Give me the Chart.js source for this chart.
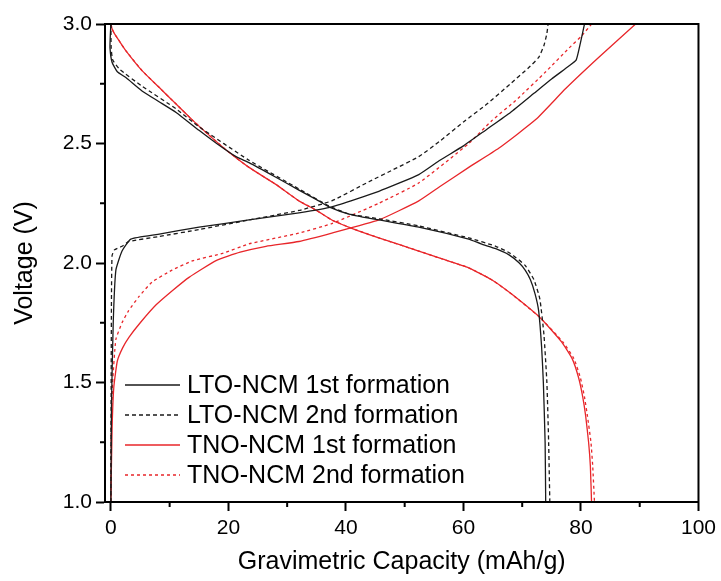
<!DOCTYPE html>
<html>
<head>
<meta charset="utf-8">
<script src="https://cdn.jsdelivr.net/npm/chart.js@4.4.1/dist/chart.umd.min.js"></script>
<style>
  html, body { margin: 0; padding: 0; background: #fff; }
  #wrap { width: 721px; height: 581px; position: relative; }
</style>
</head>
<body>
<div id="wrap"><canvas id="chart"></canvas></div>
<script>
// ---- axes ----
const xTicks = [0, 20, 40, 60, 80, 100];
const xMinor = [10, 30, 50, 70, 90];
const yTicks = [1.0, 1.5, 2.0, 2.5, 3.0];
const yMinor = [1.25, 1.75, 2.25, 2.75];

const seriesLabels = ["LTO-NCM 1st formation", "LTO-NCM 2nd formation", "TNO-NCM 1st formation", "TNO-NCM 2nd formation"];

// ---- LTO-NCM 1st (charge / discharge) ----
const lto1ChCap = [0, 0.1, 0.4, 0.85, 1.9, 3.4, 8, 15, 23.5, 32, 37.6, 45.6, 52.4, 56, 60, 64, 68, 72, 75, 78, 79.2, 79.9, 80.6];
const lto1ChV   = [1.0, 1.4, 1.75, 1.97, 2.05, 2.10, 2.12, 2.15, 2.18, 2.21, 2.235, 2.30, 2.37, 2.43, 2.49, 2.56, 2.63, 2.71, 2.77, 2.825, 2.85, 2.92, 3.0];
const lto1DisCap = [0, -0.1, -0.15, 0.2, 1.1, 2.6, 5.3, 8.2, 11.1, 15, 18, 21.3, 23.5, 28, 32, 35, 37.1, 40.5, 45.6, 52.4, 60.9, 63, 65.5, 67.7, 69.5, 70.5, 71.4, 72.2, 72.8, 73.3, 73.6, 73.9, 74.0];
const lto1DisV   = [3.0, 2.95, 2.90, 2.84, 2.80, 2.775, 2.72, 2.675, 2.63, 2.555, 2.50, 2.445, 2.42, 2.36, 2.305, 2.265, 2.235, 2.205, 2.18, 2.15, 2.10, 2.08, 2.06, 2.035, 2.00, 1.97, 1.93, 1.87, 1.80, 1.65, 1.50, 1.25, 1.0];

// ---- LTO-NCM 2nd ----
const lto2ChCap = [0, 0.05, 0.1, 0.2, 0.6, 1.9, 3.1, 8, 15, 23.5, 32, 37.6, 43.9, 48, 52.4, 56, 60, 64, 68, 71, 72.8, 73.7, 74.2, 74.4];
const lto2ChV   = [1.0, 1.5, 1.85, 2.03, 2.055, 2.07, 2.09, 2.11, 2.14, 2.18, 2.22, 2.26, 2.34, 2.39, 2.445, 2.51, 2.59, 2.665, 2.75, 2.815, 2.86, 2.91, 2.96, 3.0];
const lto2DisCap = [0, 0.05, 0.3, 1.5, 5.3, 11.1, 15, 23.5, 32, 37, 40.5, 45.6, 52.4, 60.9, 65.5, 68, 70.5, 72, 73, 73.7, 74.2, 74.5, 74.7];
const lto2DisV   = [3.0, 2.9, 2.85, 2.81, 2.74, 2.645, 2.57, 2.43, 2.31, 2.24, 2.205, 2.185, 2.155, 2.105, 2.07, 2.04, 1.99, 1.93, 1.85, 1.70, 1.50, 1.25, 1.0];

// ---- TNO-NCM 1st ----
const tno1ChCap = [0, 0.2, 0.5, 1.1, 2, 3.1, 5, 7.7, 10.5, 13.3, 17.9, 22, 26.4, 32, 37.6, 45.6, 52.4, 56, 60.9, 66, 72.3, 77.4, 83, 89.3];
const tno1ChV   = [1.0, 1.3, 1.48, 1.59, 1.645, 1.69, 1.75, 1.825, 1.885, 1.94, 2.01, 2.045, 2.07, 2.09, 2.125, 2.18, 2.26, 2.32, 2.40, 2.48, 2.60, 2.73, 2.86, 3.0];
const tno1DisCap = [0, 0.2, 0.6, 1.4, 2.5, 5.3, 8.2, 11.1, 13.8, 16.7, 20, 23.5, 28, 32, 35, 37.6, 41, 45.6, 52.4, 56, 60.9, 64.8, 68.2, 73.1, 76.7, 78.5, 79.6, 80.3, 80.8, 81.3, 81.6, 81.8];
const tno1DisV   = [3.0, 2.98, 2.96, 2.93, 2.89, 2.805, 2.735, 2.665, 2.60, 2.535, 2.465, 2.40, 2.33, 2.26, 2.22, 2.18, 2.145, 2.105, 2.05, 2.02, 1.98, 1.93, 1.87, 1.77, 1.67, 1.60, 1.52, 1.44, 1.36, 1.25, 1.15, 1.0];

// ---- TNO-NCM 2nd ----
const tno2ChCap = [0, 0.05, 0.3, 0.85, 1.9, 3, 4.8, 7, 10.4, 14, 19, 23.5, 32, 37.6, 45.6, 52.4, 60.9, 64.8, 68.9, 74, 78, 80.1, 81.8];
const tno2ChV   = [1.0, 1.3, 1.5, 1.68, 1.75, 1.80, 1.86, 1.92, 1.97, 2.01, 2.04, 2.08, 2.125, 2.165, 2.25, 2.335, 2.50, 2.595, 2.68, 2.80, 2.90, 2.95, 3.0];
const tno2DisCap = [0, 0.2, 0.6, 1.4, 2.5, 5.3, 8.2, 11.1, 13.8, 16.7, 20, 23.5, 28, 32, 35, 37.6, 41, 45.6, 52.4, 56, 60.9, 64.8, 68.2, 73.1, 76.9, 78.8, 79.9, 80.6, 81.1, 81.7, 82.0, 82.3];
const tno2DisV   = [3.0, 2.98, 2.96, 2.93, 2.89, 2.805, 2.735, 2.665, 2.60, 2.535, 2.465, 2.40, 2.33, 2.26, 2.22, 2.18, 2.145, 2.105, 2.05, 2.02, 1.98, 1.93, 1.87, 1.77, 1.67, 1.60, 1.52, 1.44, 1.36, 1.25, 1.15, 1.0];

const black = '#1a1a1a';
const red = '#e8262a';
const FONT = "'Liberation Sans', Arial, sans-serif";

const styles = [
  { color: black, dash: [] },
  { color: black, dash: [4, 3] },
  { color: red, dash: [] },
  { color: red, dash: [3, 3] }
];

function pts(xs, ys) {
  return xs.map((x, i) => ({ x: x, y: ys[i] }));
}

const curves = [
  [lto1ChCap, lto1ChV, lto1DisCap, lto1DisV],
  [lto2ChCap, lto2ChV, lto2DisCap, lto2DisV],
  [tno1ChCap, tno1ChV, tno1DisCap, tno1DisV],
  [tno2ChCap, tno2ChV, tno2DisCap, tno2DisV]
];

const datasets = [];
curves.forEach((c, i) => {
  [pts(c[0], c[1]), pts(c[2], c[3])].forEach((d, k) => {
    datasets.push({
      label: seriesLabels[i] + (k ? ' discharge' : ''),
      data: d,
      showLine: true,
      borderColor: styles[i].color,
      borderDash: styles[i].dash,
      borderWidth: 1.3,
      pointRadius: 0,
      tension: 0.15,
      fill: false
    });
  });
});

// box, minor ticks and legend
const framePlugin = {
  id: 'frame',
  afterDraw(chart) {
    const ctx = chart.ctx;
    const a = chart.chartArea;
    const xs = chart.scales.x, ys = chart.scales.y;
    ctx.save();
    ctx.strokeStyle = '#000';
    ctx.lineWidth = 2;
    ctx.strokeRect(a.left, a.top, a.right - a.left, a.bottom - a.top);
    ctx.beginPath();
    xMinor.forEach(v => {
      const p = xs.getPixelForValue(v);
      ctx.moveTo(p, a.bottom);
      ctx.lineTo(p, a.bottom + 5);
    });
    yMinor.forEach(v => {
      const p = ys.getPixelForValue(v);
      ctx.moveTo(a.left, p);
      ctx.lineTo(a.left - 5, p);
    });
    ctx.stroke();

    // legend
    ctx.font = '25px ' + FONT;
    ctx.textBaseline = 'middle';
    ctx.fillStyle = '#000';
    seriesLabels.forEach((lab, i) => {
      const y = 385 + i * 30;
      ctx.beginPath();
      ctx.lineWidth = 1.3;
      ctx.strokeStyle = styles[i].color;
      ctx.setLineDash(styles[i].dash);
      ctx.moveTo(125, y);
      ctx.lineTo(180, y);
      ctx.stroke();
      ctx.setLineDash([]);
      ctx.fillText(lab, 187, y + 1);
    });
    ctx.restore();
  }
};

new Chart(document.getElementById('chart'), {
  type: 'scatter',
  data: { datasets: datasets },
  options: {
    responsive: true,
    maintainAspectRatio: false,
    animation: false,
    layout: { padding: { top: 24, right: 21, left: 0, bottom: 0 } },
    plugins: { legend: { display: false }, tooltip: { enabled: false } },
    scales: {
      x: {
        type: 'linear',
        min: -1,
        max: 100,
        afterFit(scale) { scale.height = 79; },
        afterBuildTicks(scale) { scale.ticks = xTicks.map(v => ({ value: v })); },
        grid: { drawOnChartArea: false, drawTicks: true, tickLength: 9, tickWidth: 2, tickColor: '#000' },
        border: { display: true, color: '#000', width: 2 },
        ticks: { color: '#000', padding: 5, font: { family: FONT, size: 21 }, callback: v => String(v) },
        title: { display: true, text: 'Gravimetric Capacity (mAh/g)', color: '#000', font: { family: FONT, size: 25 }, padding: { top: 0, bottom: 4 } }
      },
      y: {
        type: 'linear',
        min: 1,
        max: 3,
        afterFit(scale) { scale.width = 105; },
        afterBuildTicks(scale) { scale.ticks = yTicks.map(v => ({ value: v })); },
        grid: { drawOnChartArea: false, drawTicks: true, tickLength: 9, tickWidth: 2, tickColor: '#000' },
        border: { display: true, color: '#000', width: 2 },
        ticks: { color: '#000', padding: 4, font: { family: FONT, size: 21 }, callback: v => Number(v).toFixed(1) },
        title: { display: true, text: 'Voltage (V)', color: '#000', font: { family: FONT, size: 25 }, padding: { top: 10, bottom: 0 } }
      }
    }
  },
  plugins: [framePlugin]
});
</script>
</body>
</html>
